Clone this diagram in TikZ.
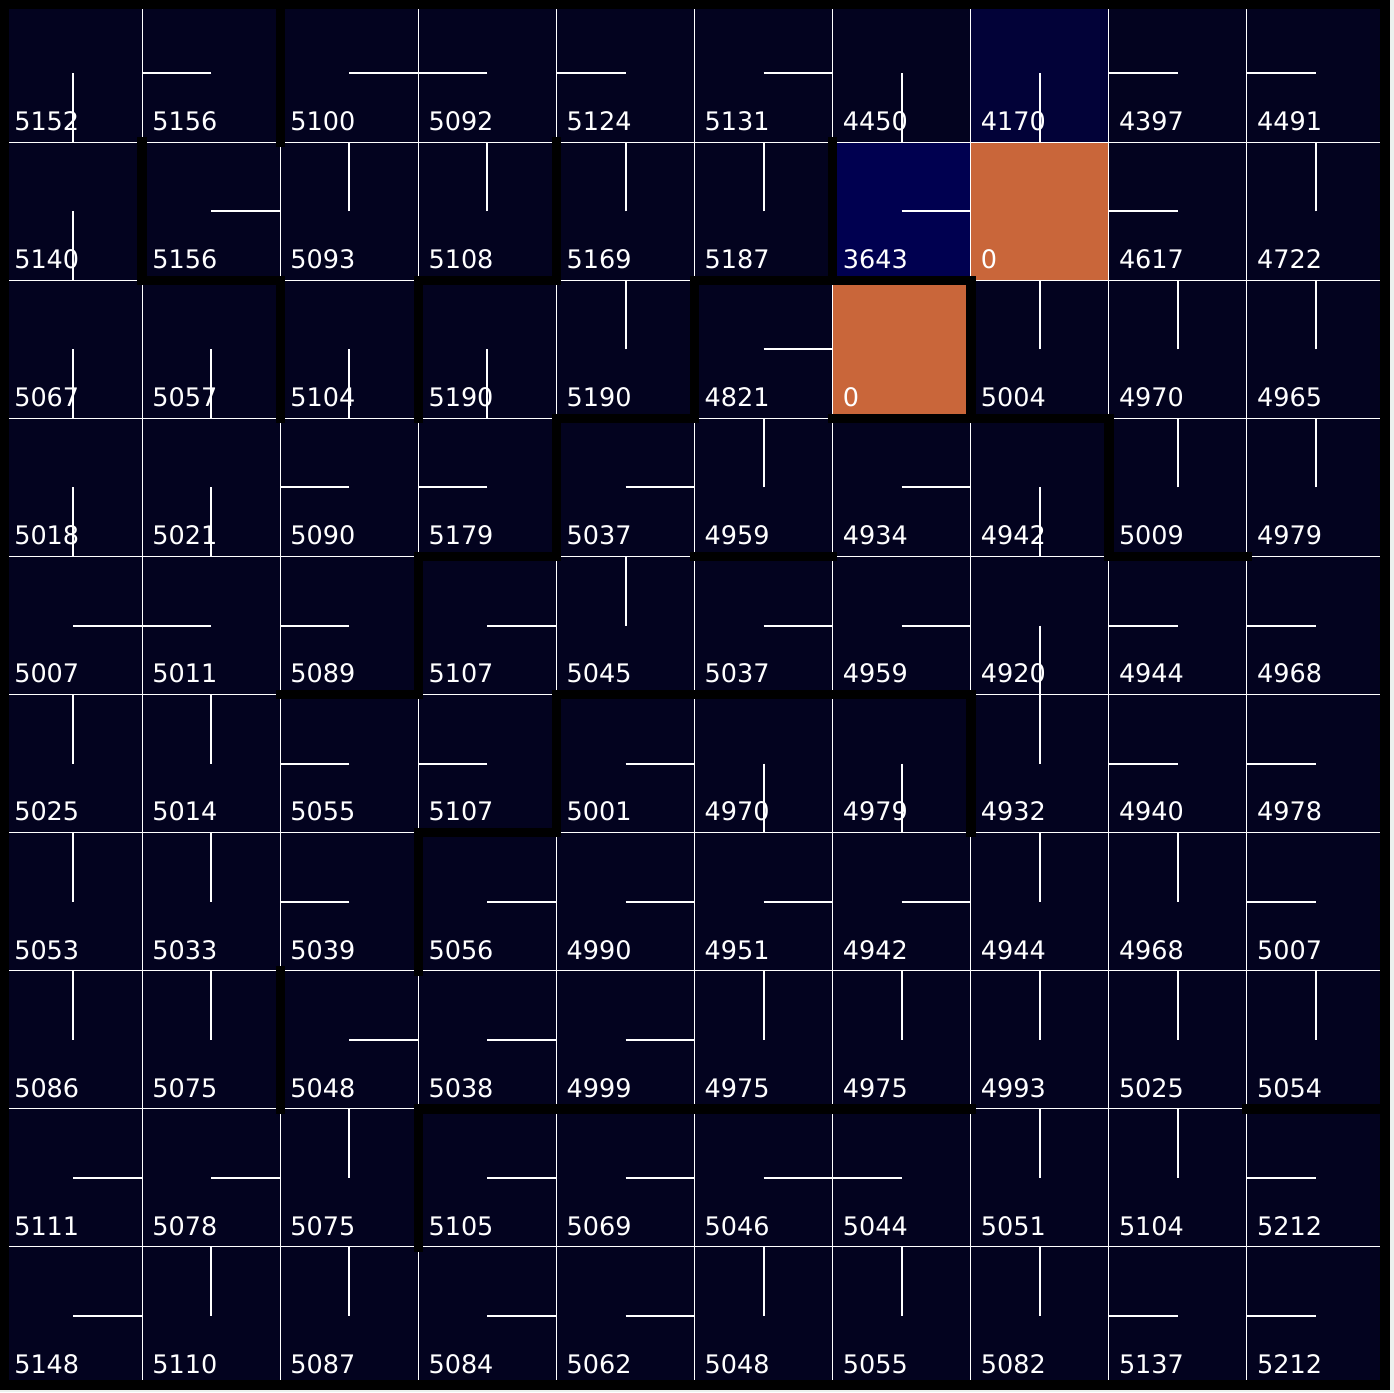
\documentclass[tikz,border=0pt]{standalone}
\usepackage{fontspec}
\setmainfont{DejaVu Sans}
\usepackage{tikz}

\definecolor{paper}{RGB}{236,241,238}
\definecolor{deep}{RGB}{3,3,31}
\definecolor{deepb}{RGB}{2,2,56}
\definecolor{deepc}{RGB}{0,0,80}
\definecolor{goal}{RGB}{201,102,58}

% action -> angle (y axis points down)
\def\angR{0}
\def\angD{90}
\def\angL{180}
\def\angU{270}

\begin{document}
\begin{tikzpicture}[x=138pt,y=-138pt,
    cell/.style={draw=white,line width=1pt},
    wall/.style={draw=black,line width=9.5pt,line cap=rect},
    arm/.style={white,line width=2pt},
    val/.style={anchor=base west,inner sep=0pt,text=white,
                font=\fontsize{25.5}{30}\selectfont}]
  \useasboundingbox[fill=paper] (-0.03,-0.03) rectangle (10.065,10.051);

  % Cells: value / action
  \foreach \row [count=\r from 0] in {
      {5152/D,5156/L,5100/R,5092/L,5124/L,5131/R,4450/D,4170/D,4397/L,4491/L},
      {5140/D,5156/R,5093/U,5108/U,5169/U,5187/U,3643/R,0/G,4617/L,4722/U},
      {5067/D,5057/D,5104/D,5190/D,5190/U,4821/R,0/G,5004/U,4970/U,4965/U},
      {5018/D,5021/D,5090/L,5179/L,5037/R,4959/U,4934/R,4942/D,5009/U,4979/U},
      {5007/R,5011/L,5089/L,5107/R,5045/U,5037/R,4959/R,4920/D,4944/L,4968/L},
      {5025/U,5014/U,5055/L,5107/L,5001/R,4970/D,4979/D,4932/U,4940/L,4978/L},
      {5053/U,5033/U,5039/L,5056/R,4990/R,4951/R,4942/R,4944/U,4968/U,5007/L},
      {5086/U,5075/U,5048/R,5038/R,4999/R,4975/U,4975/U,4993/U,5025/U,5054/U},
      {5111/R,5078/R,5075/U,5105/R,5069/R,5046/R,5044/L,5051/U,5104/U,5212/L},
      {5148/R,5110/U,5087/U,5084/R,5062/R,5048/U,5055/U,5082/U,5137/L,5212/L}} {
    \foreach \v/\act [count=\c from 0] in \row {
      \if\act G
        \filldraw[cell,fill=goal] (\c,\r) rectangle ++(1,1);
      \else
        \def\cc{deep}
        \ifnum\v<4300 \def\cc{deepb}\fi
        \ifnum\v<4000 \def\cc{deepc}\fi
        \filldraw[cell,fill=\cc] (\c,\r) rectangle ++(1,1);
        \edef\a{\csname ang\act\endcsname}
        \draw[arm] (\c+.5,\r+.5) -- ++(\a:.5);
      \fi
      \node[val] (v\r\c) at (\c+.072,\r+.915) {\v};
    }
  }

  % Walls
  \foreach \x/\r in {2/0,1/1,4/1,6/1,2/2,3/2,5/2,7/2,4/3,8/3,
                     3/4,4/5,7/5,3/6,2/7,3/8}
    \draw[wall] (\x,\r) -- (\x,\r+1);
  \foreach \c/\y in {1/2,3/2,5/2,6/2,4/3,6/3,7/3,3/4,5/4,8/4,
                     2/5,4/5,5/5,6/5,3/6,3/8,4/8,5/8,6/8,9/8}
    \draw[wall] (\c,\y) -- (\c+1,\y);
  \draw[wall] (0,0) rectangle (10,10);
\end{tikzpicture}
\end{document}
